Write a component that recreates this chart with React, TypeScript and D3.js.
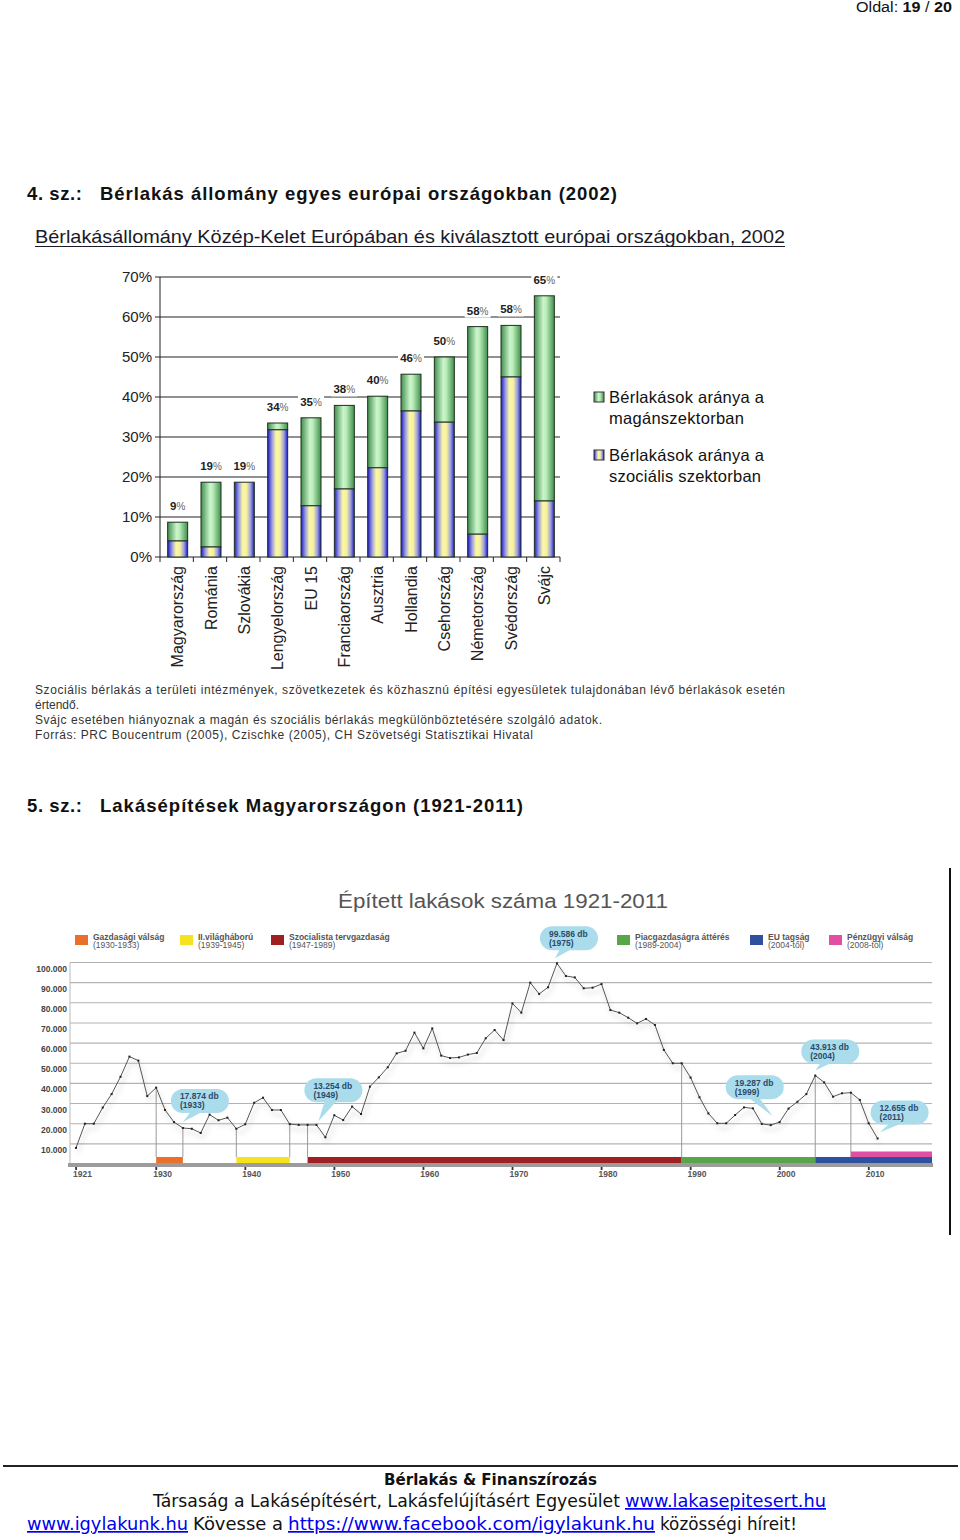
import React from 'react';
import * as d3 from 'd3';

// ---------------- Chart 1: rental housing stock ----------------
const countries = ['Magyarország', 'Románia', 'Szlovákia', 'Lengyelország', 'EU 15', 'Franciaország', 'Ausztria', 'Hollandia', 'Csehország', 'Németország', 'Svédország', 'Svájc'];
const totalValues = [8.7, 18.7, 18.7, 33.5, 34.8, 37.9, 40.2, 45.7, 50.0, 57.6, 57.9, 65.3];
const socialValues = [4.0, 2.5, 18.7, 31.8, 12.8, 17.0, 22.3, 36.5, 33.7, 5.7, 45.0, 14.0];
const totalLabels = [9, 19, 19, 34, 35, 38, 40, 46, 50, 58, 58, 65];
const pctTicks = [0, 10, 20, 30, 40, 50, 60, 70];
const legend1 = [
  ['Bérlakások aránya a', 'magánszektorban'],
  ['Bérlakások aránya a', 'szociális szektorban'],
];
const footnotes = [
  'Szociális bérlakás a területi intézmények, szövetkezetek és közhasznú építési egyesületek tulajdonában lévő bérlakások esetén',
  'értendő.',
  'Svájc esetében hiányoznak a magán és szociális bérlakás megkülönböztetésére szolgáló adatok.',
  'Forrás: PRC Boucentrum (2005), Czischke (2005), CH Szövetségi Statisztikai Hivatal',
];

// ---------------- Chart 2: dwellings built 1921-2011 ----------------
const firstYear = 1921;
const dwellings = [
  8000, 20000, 20000, 28000, 34700, 43300, 53300, 51300, 33700, 37900, // 1921-1930
  26800, 20800, 17874, 17500, 15400, 24500, 21700, 23000, 17500, 19700, // 1931-1940
  30400, 32900, 26800, 26800, 19800, 19400, 19400, 19400, 13254, 24200, // 1941-1950
  21800, 28500, 24800, 38400, 43000, 48000, 54900, 56200, 65200, 57400, // 1951-1960
  67300, 53800, 52600, 52900, 54300, 55100, 62400, 66500, 61500, 79700, // 1961-1970
  75100, 90000, 84400, 87700, 99586, 93300, 92600, 87200, 87500, 89300, // 1971-1980
  76400, 75100, 72600, 69800, 72000, 69000, 56600, 50000, 50000, 42900, // 1981-1990
  33100, 25100, 20200, 20200, 24300, 28100, 27600, 19900, 19287, 20800, // 1991-2000
  27500, 30900, 34700, 43913, 40500, 33400, 35100, 35400, 31800, 20200, // 2001-2010
  12655, // 2011
];
const yearTicks = [1921, 1930, 1940, 1950, 1960, 1970, 1980, 1990, 2000, 2010];
const valueTicks = [10000, 20000, 30000, 40000, 50000, 60000, 70000, 80000, 90000, 100000];
const periodNames = ['Gazdasági válság', 'II.világháború', 'Szocialista tervgazdaság', 'Piacgazdaságra áttérés', 'EU tagság', 'Pénzügyi válság'];
const periodRanges = ['(1930-1933)', '(1939-1945)', '(1947-1989)', '(1989-2004)', '(2004-től)', '(2008-tól)'];
const periodStart = [1930, 1939, 1947, 1989, 2004, 2008];
const periodEnd: (number | null)[] = [1933, 1945, 1989, 2004, null, null];
const boundaryYears = [1930, 1933, 1939, 1945, 1947, 1989, 2004, 2008];
const calloutYears = [1933, 1949, 1975, 1999, 2004, 2011];
const calloutTexts = ['17.874 db', '13.254 db', '99.586 db', '19.287 db', '43.913 db', '12.655 db'];

const ARIAL = '"Liberation Sans", Arial, sans-serif';
const VERD = '"DejaVu Sans", Verdana, sans-serif';

export default function App() {
  // ---- chart 1 scales
  const x1 = d3.scaleBand<string>().domain(countries).range([160, 560]).padding(0);
  const y1 = d3.scaleLinear().domain([0, 70]).range([557, 277]);
  const barW = 20;
  const bx = (c: string) => (x1(c) as number) + (x1.bandwidth() - barW) / 2 + 1;

  // ---- chart 2 scales
  const x2 = d3.scaleLinear().domain([1921, 2010]).range([76, 868.7]);
  const y2 = d3.scaleLinear().domain([0, 100000]).range([1164, 962.5]);
  const plotL = 70;
  const plotR = 932;
  const years = dwellings.map((_, i) => firstYear + i);
  const pts: [number, number][] = years.map((yr, i) => [x2(yr), y2(dwellings[i])]);
  const linePath = d3.line()(pts) as string;
  const valAt = (yr: number) => dwellings[yr - firstYear];
  const fmt = d3.formatLocale({ decimal: ',', thousands: '.', grouping: [3], currency: ['', ''] }).format(',');

  const periodColors = ['#ea6f2b', '#f6e21f', '#a01f22', '#58a649', '#2f4f9f', '#e04fa2'];
  const legendX = [75, 180, 271, 617, 750, 829];
  const calloutOffsets = [
    [17, -27], [8, -47], [12, -25], [-16, -38], [15, -24], [22, -26],
  ];
  const tipOffsets = [
    [0, -6], [-7, -16], [-2, -5], [2, -9], [0, -5], [2, -6],
  ];
  const legendW = [[155, 135], [155, 152]];

  return (
    <svg width={960} height={1540} style={{ position: 'absolute', left: 0, top: 0, background: '#fff' }}>
      <defs>
        <linearGradient id="gGreen" x1="0" x2="1" y1="0" y2="0">
          <stop offset="0" stopColor="#3f8f4c" />
          <stop offset="0.45" stopColor="#cdf5cd" />
          <stop offset="0.6" stopColor="#b8ecb8" />
          <stop offset="1" stopColor="#3f8f4c" />
        </linearGradient>
        <linearGradient id="gSoc" x1="0" x2="1" y1="0" y2="0">
          <stop offset="0" stopColor="#1c1cc4" />
          <stop offset="0.22" stopColor="#9c9ce0" />
          <stop offset="0.42" stopColor="#fbf8a4" />
          <stop offset="0.62" stopColor="#f4f0a0" />
          <stop offset="0.82" stopColor="#9c9ce0" />
          <stop offset="1" stopColor="#1c1cc4" />
        </linearGradient>
        <filter id="sh" x="-5%" y="-10%" width="110%" height="130%">
          <feDropShadow dx="2" dy="5" stdDeviation="2.5" floodColor="#000" floodOpacity="0.25" />
        </filter>
      </defs>

      {/* Page header */}
      <text x={856} y={12} fontFamily={ARIAL} fontSize={14} fill="#111" textLength={96} lengthAdjust="spacingAndGlyphs">
        Oldal: <tspan fontWeight="bold">19</tspan> / <tspan fontWeight="bold">20</tspan>
      </text>

      {/* Section heading 4 */}
      <text x={27} y={200} fontFamily={ARIAL} fontWeight="bold" fontSize={18.5} fill="#111" textLength={55} lengthAdjust="spacing">4. sz.:</text>
      <text x={100} y={200} fontFamily={ARIAL} fontWeight="bold" fontSize={18.5} fill="#111" textLength={517} lengthAdjust="spacing">Bérlakás állomány egyes európai országokban (2002)</text>

      {/* Chart 1 title */}
      <text x={35} y={243} fontFamily={ARIAL} fontSize={18.5} fill="#1a1a2a" textLength={750} lengthAdjust="spacingAndGlyphs">
        Bérlakásállomány Közép-Kelet Európában és kiválasztott európai országokban, 2002
      </text>
      <line x1={35} x2={785} y1={246.5} y2={246.5} stroke="#1a1a2a" strokeWidth={1.2} />

      {/* Chart 1 gridlines & y axis */}
      {pctTicks.map((t) => (
        <g key={'pt' + t}>
          {t > 0 && <line x1={160} x2={560} y1={y1(t)} y2={y1(t)} stroke="#222" strokeWidth={1} />}
          <line x1={155} x2={160} y1={y1(t)} y2={y1(t)} stroke="#222" strokeWidth={1} />
          <text x={152} y={y1(t) + 5} textAnchor="end" fontFamily={ARIAL} fontSize={15} fill="#222">{t}%</text>
        </g>
      ))}
      <line x1={160} x2={160} y1={y1(70)} y2={y1(0)} stroke="#222" strokeWidth={1} />
      <line x1={160} x2={560} y1={y1(0)} y2={y1(0)} stroke="#222" strokeWidth={1} />
      {d3.range(countries.length + 1).map((k) => (
        <line key={'ct' + k} x1={160 + k * x1.step()} x2={160 + k * x1.step()} y1={557} y2={562} stroke="#222" strokeWidth={1} />
      ))}

      {/* Chart 1 bars */}
      {countries.map((c, i) => {
        const x = bx(c);
        const yt = y1(totalValues[i]);
        const ys = y1(socialValues[i]);
        return (
          <g key={'bar' + c}>
            {totalValues[i] > socialValues[i] && (
              <rect x={x} y={yt} width={barW} height={ys - yt} fill="url(#gGreen)" stroke="#1f2f1f" strokeWidth={1} />
            )}
            <rect x={x} y={ys} width={barW} height={y1(0) - ys} fill="url(#gSoc)" stroke="#1f2f1f" strokeWidth={1} />
          </g>
        );
      })}

      {/* Chart 1 value labels */}
      {countries.map((c, i) => {
        const cx = bx(c) + barW / 2;
        const yt = y1(totalValues[i]);
        return (
          <g key={'lab' + c}>
            <rect x={cx - 13} y={yt - 22} width={26} height={13} fill="#fff" />
            <text x={cx} y={yt - 12} textAnchor="middle" fontFamily={ARIAL} fill="#222">
              <tspan fontSize={11.5} fontWeight="bold">{totalLabels[i]}</tspan>
              <tspan fontSize={10} fill="#666">%</tspan>
            </text>
          </g>
        );
      })}

      {/* Chart 1 category labels */}
      {countries.map((c) => (
        <text key={'cl' + c} transform={`translate(${bx(c) + barW / 2},566) rotate(-90)`} textAnchor="end" dy="0.36em" fontFamily={ARIAL} fontSize={16} fill="#222">
          {c}
        </text>
      ))}

      {/* Chart 1 legend */}
      {legend1.map((l, i) => (
        <g key={'lg' + i}>
          <rect x={594} y={392 + i * 58} width={10} height={10} fill={i === 0 ? 'url(#gGreen)' : 'url(#gSoc)'} stroke="#333" strokeWidth={1} />
          <text x={609} y={403 + i * 58} fontFamily={ARIAL} fontSize={16.5} fill="#111" textLength={legendW[i][0]} lengthAdjust="spacing">{l[0]}</text>
          <text x={609} y={424 + i * 58} fontFamily={ARIAL} fontSize={16.5} fill="#111" textLength={legendW[i][1]} lengthAdjust="spacing">{l[1]}</text>
        </g>
      ))}

      {/* Chart 1 footnotes */}
      <text x={35} y={694} fontFamily={ARIAL} fontSize={12} fill="#333" textLength={750} lengthAdjust="spacing">{footnotes[0]}</text>
      <text x={35} y={709} fontFamily={ARIAL} fontSize={12} fill="#333">{footnotes[1]}</text>
      <text x={35} y={724} fontFamily={ARIAL} fontSize={12} fill="#333" textLength={567} lengthAdjust="spacing">{footnotes[2]}</text>
      <text x={35} y={739} fontFamily={ARIAL} fontSize={12} fill="#333" textLength={498} lengthAdjust="spacing">{footnotes[3]}</text>

      {/* Section heading 5 */}
      <text x={27} y={812} fontFamily={ARIAL} fontWeight="bold" fontSize={18.5} fill="#111" textLength={55} lengthAdjust="spacing">5. sz.:</text>
      <text x={100} y={812} fontFamily={ARIAL} fontWeight="bold" fontSize={18.5} fill="#111" textLength={423} lengthAdjust="spacing">Lakásépítések Magyarországon (1921-2011)</text>

      {/* right border line */}
      <line x1={950} x2={950} y1={868} y2={1235} stroke="#111" strokeWidth={2} />

      {/* Chart 2 title */}
      <text x={503} y={908} textAnchor="middle" fontFamily={ARIAL} fontSize={20} fill="#555" textLength={330} lengthAdjust="spacingAndGlyphs">
        Épített lakások száma 1921-2011
      </text>

      {/* Chart 2 legend */}
      {periodNames.map((n, i) => (
        <g key={'pl' + i}>
          <rect x={legendX[i]} y={935} width={13} height={10} fill={periodColors[i]} />
          <text x={legendX[i] + 18} y={940} fontFamily={ARIAL} fontWeight="bold" fontSize={8.5} fill="#555">{n}</text>
          <text x={legendX[i] + 18} y={947.5} fontFamily={ARIAL} fontSize={8.5} fill="#555">{periodRanges[i]}</text>
        </g>
      ))}

      {/* Chart 2 grid */}
      {valueTicks.map((v) => (
        <g key={'vt' + v}>
          <line x1={plotL} x2={plotR} y1={y2(v)} y2={y2(v)} stroke="#b3b3b3" strokeWidth={1.1} />
          <text x={67} y={y2(v) + 9} textAnchor="end" fontFamily={ARIAL} fontWeight="bold" fontSize={8.5} fill="#444">{fmt(v)}</text>
        </g>
      ))}
      <line x1={plotL} x2={plotL} y1={y2(100000)} y2={y2(0)} stroke="#bbb" strokeWidth={1} />

      {/* boundary verticals */}
      {boundaryYears.map((yr) => (
        <line key={'bv' + yr} x1={x2(yr)} x2={x2(yr)} y1={y2(valAt(yr))} y2={1157} stroke="#9a9a9a" strokeWidth={1} />
      ))}

      {/* period bars */}
      {periodStart.map((s, i) => {
        const xs = x2(s);
        const xe = periodEnd[i] === null ? plotR : x2(periodEnd[i] as number);
        const top = i === 5 ? 1151.5 : 1157;
        return <rect key={'pb' + i} x={xs} y={top} width={xe - xs} height={i === 5 ? 5.5 : 6} fill={periodColors[i]} />;
      })}
      <rect x={68} y={1163} width={plotR - 68 + 1} height={4} fill="#9c9c9c" />

      {/* x ticks */}
      {yearTicks.map((yr) => (
        <g key={'yt' + yr}>
          <rect x={x2(yr) - 0.8} y={1167} width={1.8} height={3} fill="#333" />
          <text x={x2(yr) - 3} y={1177} fontFamily={ARIAL} fontWeight="bold" fontSize={8.5} fill="#555">{yr}</text>
        </g>
      ))}

      {/* line with shadow */}
      <path d={linePath} fill="none" stroke="#555" strokeWidth={1} filter="url(#sh)" />
      {pts.map((p, i) => (
        <rect key={'pt' + i} x={p[0] - 1} y={p[1] - 1} width={2} height={2} fill="#222" />
      ))}

      {/* callouts */}
      {calloutYears.map((yr, i) => {
        const px = x2(yr);
        const py = y2(valAt(yr));
        const cx = px + calloutOffsets[i][0];
        const cy = py + calloutOffsets[i][1];
        const tx = px + tipOffsets[i][0];
        const ty = py + tipOffsets[i][1];
        const w = 58;
        const h = 24;
        const tail = `M${cx - 8},${cy + h / 2 - 3} L${tx},${ty} L${cx + 4},${cy + h / 2 - 2} Z`;
        return (
          <g key={'co' + yr}>
            <path d={tail} fill="#aadcec" />
            <rect x={cx - w / 2} y={cy - h / 2} width={w} height={h} rx={12} ry={12} fill="#aadcec" />
            <text x={cx - w / 2 + 9} y={cy - 1.5} fontFamily={ARIAL} fontWeight="bold" fontSize={8.5} fill="#2c4a68">{calloutTexts[i]}</text>
            <text x={cx - w / 2 + 9} y={cy + 7.5} fontFamily={ARIAL} fontWeight="bold" fontSize={8.5} fill="#2c4a68">({yr})</text>
          </g>
        );
      })}

      {/* Footer */}
      <line x1={3} x2={958} y1={1466} y2={1466} stroke="#222" strokeWidth={2} />
      <text x={384} y={1485} fontFamily={VERD} fontWeight="bold" fontSize={16} fill="#111" textLength={213} lengthAdjust="spacingAndGlyphs">Bérlakás &amp; Finanszírozás</text>
      <text x={153} y={1507} fontFamily={VERD} fontSize={17} fill="#111" textLength={467} lengthAdjust="spacingAndGlyphs">Társaság a Lakásépítésért, Lakásfelújításért Egyesület</text>
      <text x={625} y={1507} fontFamily={VERD} fontSize={17} fill="#0000ee" textDecoration="underline" textLength={201} lengthAdjust="spacingAndGlyphs">www.lakasepitesert.hu</text>
      <text x={27} y={1530} fontFamily={VERD} fontSize={17} fill="#0000ee" textDecoration="underline" textLength={161} lengthAdjust="spacingAndGlyphs">www.igylakunk.hu</text>
      <text x={193} y={1530} fontFamily={VERD} fontSize={17} fill="#111" textLength={90} lengthAdjust="spacingAndGlyphs">Kövesse a</text>
      <text x={288} y={1530} fontFamily={VERD} fontSize={17} fill="#0000ee" textDecoration="underline" textLength={367} lengthAdjust="spacingAndGlyphs">https://www.facebook.com/igylakunk.hu</text>
      <text x={660} y={1530} fontFamily={VERD} fontSize={17} fill="#111" textLength={137} lengthAdjust="spacingAndGlyphs">közösségi híreit!</text>
    </svg>
  );
}
